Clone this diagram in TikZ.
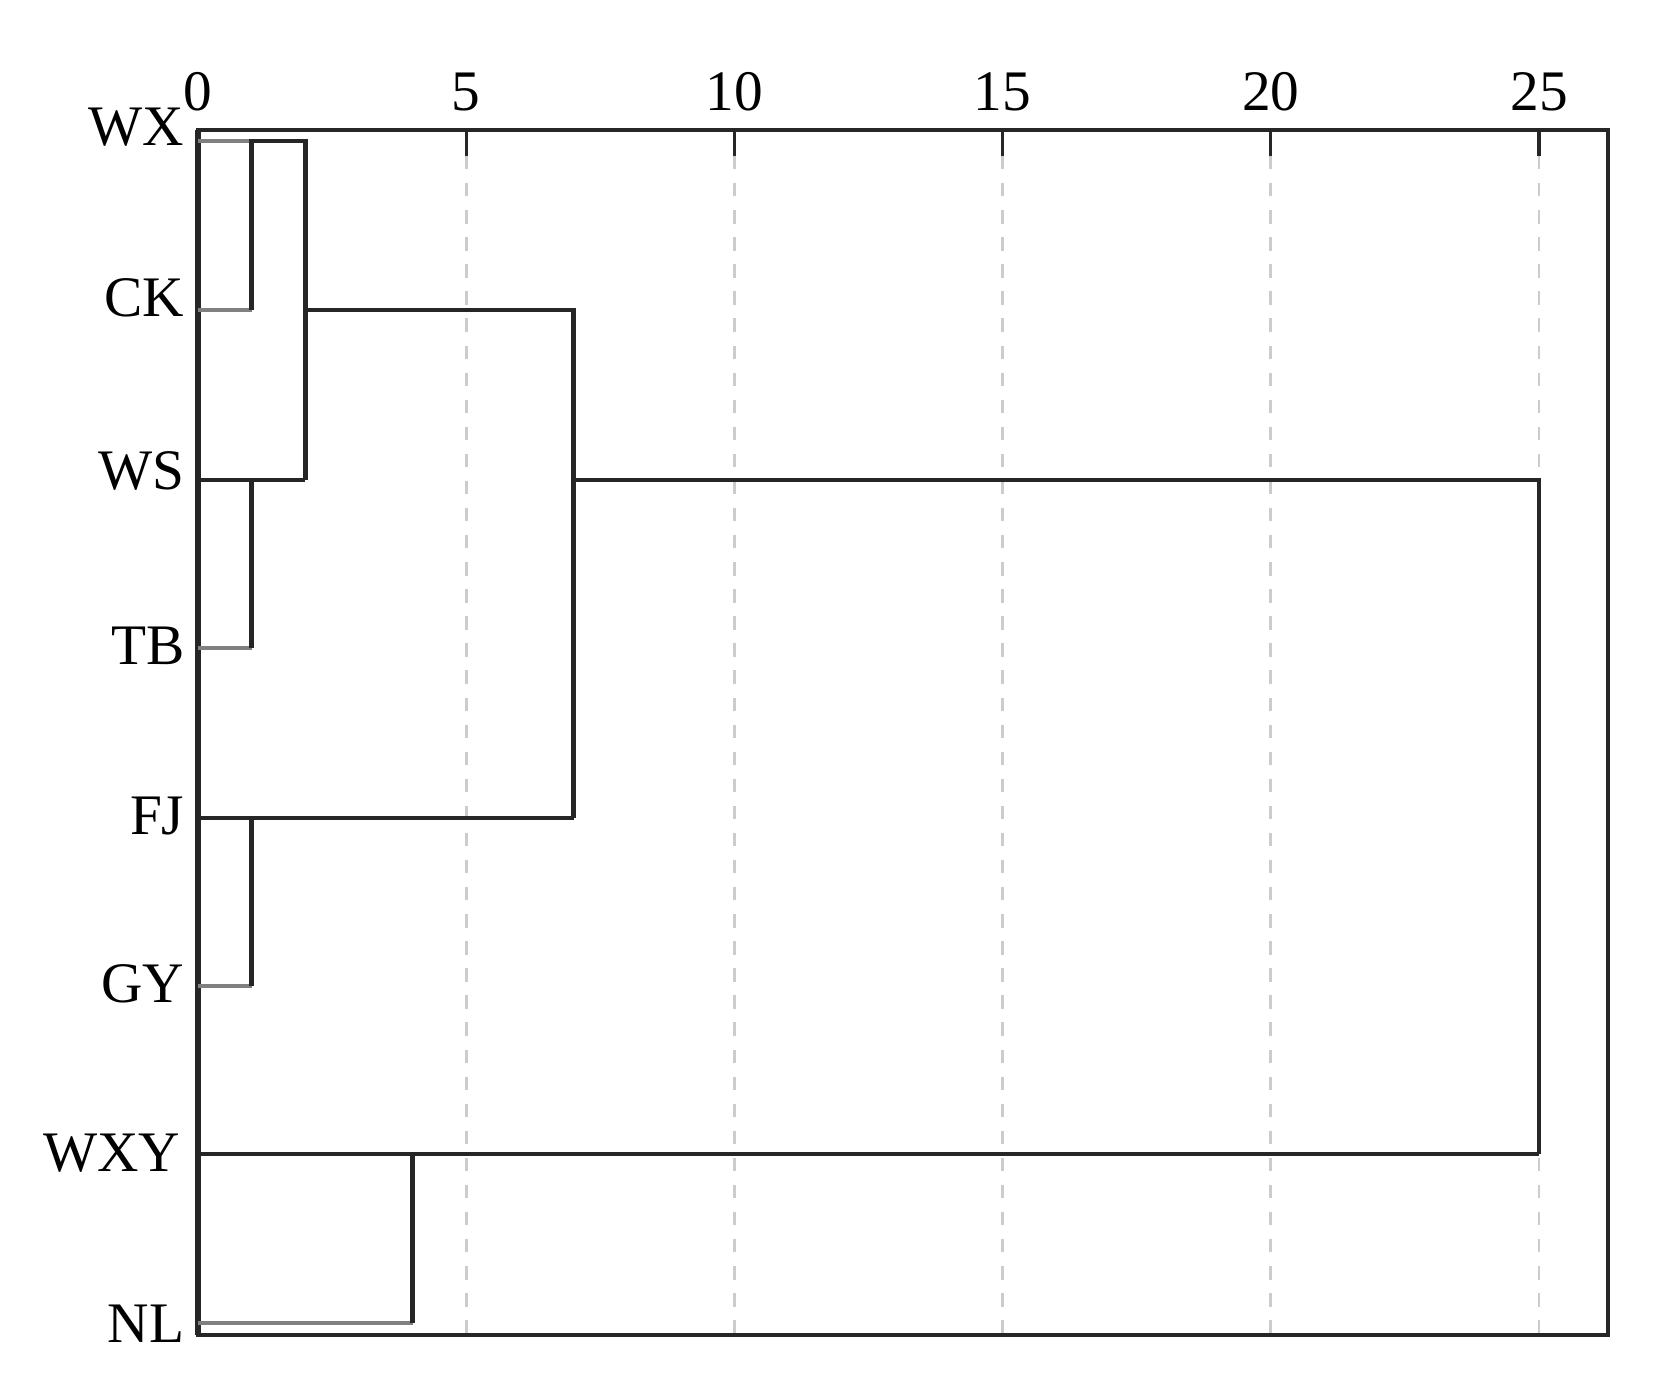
\documentclass[tikz,border=0pt]{standalone}
\usepackage{fontspec}
\setmainfont{Liberation Serif}
\begin{document}
\begin{tikzpicture}[x=0.01cm,y=-0.01cm,
  lbl/.style={font=\fontsize{16.3}{19}\selectfont, inner sep=0pt},
  leaflbl/.style={lbl, anchor=base east},
  ticklbl/.style={lbl, anchor=base},
  tree/.style={line width=1.25pt, color=black!85},
  stub/.style={line width=1.25pt, color=black!50},
  grid/.style={line width=0.8pt, color=black!20, dash pattern=on 3.8pt off 3.9pt},
  frame/.style={line width=0.9pt, color=black!85},
  tickmark/.style={line width=0.9pt, color=black!85}]
\useasboundingbox (0,0) rectangle (1661,1377);
% axis geometry
\coordinate (TL) at (198,130);
\coordinate (BR) at (1608,1335);
% grid lines and ticks
\foreach \v/\name in {5/a,10/b,15/c,20/d,25/e}{
  \coordinate (gt\name) at ({198+53.64*\v},130);
  \coordinate (gb\name) at ({198+53.64*\v},1335);
  \coordinate (gk\name) at ({198+53.64*\v},156);
  \draw[grid] (gk\name) -- (gb\name);
  \draw[tickmark] (gt\name) -- (gk\name);
}
\foreach \v in {0,5,10,15,20,25}{
  \node[ticklbl] (t\v) at ({198+53.64*\v},111) {\v};
}
% frame
\draw[frame] (TL) rectangle (BR);
\draw[line width=1.6pt, color=black!85] (TL) -- (198,1335);
% leaf positions
\coordinate (WX) at (198,141);
\coordinate (CK) at (198,310);
\coordinate (WS) at (198,480);
\coordinate (TB) at (198,648);
\coordinate (FJ) at (198,818);
\coordinate (GY) at (198,986);
\coordinate (WXY) at (198,1154);
\coordinate (NL) at (198,1323);
% merge points
\coordinate (m1a) at (251.6,141);
\coordinate (m1b) at (251.6,310);
\coordinate (m2a) at (305.3,141);
\coordinate (m2b) at (305.3,480);
\coordinate (m2c) at (305.3,310);
\coordinate (m3a) at (251.6,480);
\coordinate (m3b) at (251.6,648);
\coordinate (m4a) at (573.5,310);
\coordinate (m4b) at (573.5,818);
\coordinate (m4c) at (573.5,480);
\coordinate (m5a) at (251.6,818);
\coordinate (m5b) at (251.6,986);
\coordinate (m6a) at (1539,480);
\coordinate (m6b) at (1539,1154);
\coordinate (m7a) at (412.6,1154);
\coordinate (m7b) at (412.6,1323);
% leaf stubs (gray)
\draw[stub] (WX) -- (m1a);
\draw[stub] (CK) -- (m1b);
\draw[stub] (TB) -- (m3b);
\draw[stub] (GY) -- (m5b);
\draw[stub] (NL) -- (m7b);
% tree
\draw[tree] (m1b) -- (m1a) -- (m2a) -- (m2b);
\draw[tree] (WS) -- (m2b);
\draw[tree] (m3a) -- (m3b);
\draw[tree] (m2c) -- (m4a) -- (m4b);
\draw[tree] (FJ) -- (m4b);
\draw[tree] (m5a) -- (m5b);
\draw[tree] (m4c) -- (m6a) -- (m6b);
\draw[tree] (WXY) -- (m6b);
\draw[tree] (m7a) -- (m7b);
% leaf labels
\node[leaflbl] (lWX) at (185,146) {WX};
\node[leaflbl] (lCK) at (185,317) {CK};
\node[leaflbl] (lWS) at (185,490) {WS};
\node[leaflbl] (lTB) at (185,665) {TB};
\node[leaflbl] (lFJ) at (185,835) {FJ};
\node[leaflbl] (lGY) at (185,1002) {GY};
\node[leaflbl] (lWXY) at (181,1171) {WXY};
\node[leaflbl] (lNL) at (185,1342) {NL};
\end{tikzpicture}
\end{document}
